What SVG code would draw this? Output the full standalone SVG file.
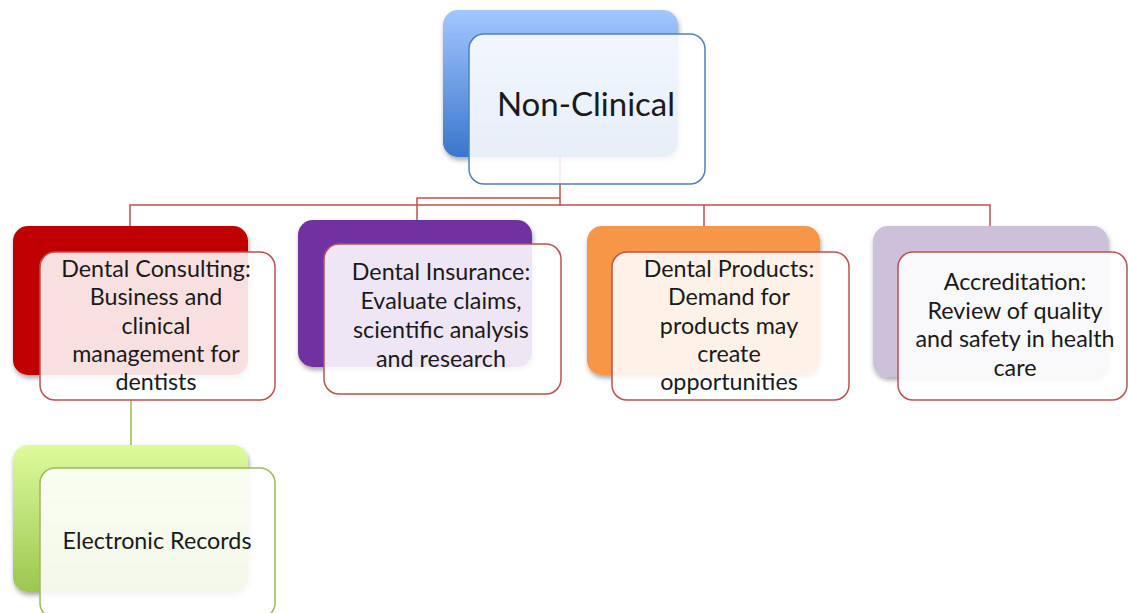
<svg xmlns="http://www.w3.org/2000/svg" width="1128" height="613" viewBox="0 0 1128 613">
<defs>
<linearGradient id="gBlue" x1="0" y1="0" x2="0" y2="1"><stop offset="0" stop-color="#a3c6ff"/><stop offset="1" stop-color="#3a76cc"/></linearGradient>
<linearGradient id="gGreen" x1="0" y1="0" x2="0" y2="1"><stop offset="0" stop-color="#ddfb9c"/><stop offset="1" stop-color="#9cc74e"/></linearGradient>
<filter id="sh" x="-10%" y="-10%" width="125%" height="130%"><feDropShadow dx="1" dy="3" stdDeviation="2.5" flood-color="#000" flood-opacity="0.35"/></filter>
<style>
.back{filter:url(#sh)}
.front{fill:#ffffff;fill-opacity:0.88;stroke-width:1.5}
.red{stroke:#c0504d}
.t{font-family:Lato,"Open Sans","Liberation Sans",sans-serif;font-size:23.3px;fill:#1a1a1a;text-anchor:middle}
.conn{fill:none;stroke:#c0504d;stroke-width:1.5}
</style>
</defs>
<g id="connectors">
<path class="conn" d="M560,157 V205 M130,226 V205 H990 V226 M704,205 V226"/>
<path class="conn" d="M560,198 H417 V220"/>
<path d="M131,400 V445" fill="none" stroke="#9bbb59" stroke-width="1.5"/>
</g>
<g id="node-nonclinical">
<rect class="back" x="443" y="10" width="235" height="147" rx="15" fill="url(#gBlue)"/>
<rect class="front" x="469" y="34" width="236" height="150" rx="15" stroke="#4f81bd"/>
<text class="t" x="586" y="116" style="font-size:33px">Non-Clinical</text>
</g>
<g id="node-consulting">
<rect class="back" x="13" y="226" width="235" height="149" rx="15" fill="#c00000"/>
<rect class="front red" x="40" y="252" width="235" height="148" rx="15"/>
<text class="t" x="156" y="277">Dental Consulting:<tspan x="156" dy="28.3">Business and</tspan><tspan x="156" dy="28.3">clinical</tspan><tspan x="156" dy="28.3">management for</tspan><tspan x="156" dy="28.3">dentists</tspan></text>
</g>
<g id="node-insurance">
<rect class="back" x="298" y="220" width="234" height="147" rx="15" fill="#7030a0"/>
<rect class="front red" x="324" y="244" width="237" height="150" rx="15"/>
<text class="t" x="441" y="280">Dental Insurance:<tspan x="441" dy="29">Evaluate claims,</tspan><tspan x="441" dy="29">scientific analysis</tspan><tspan x="441" dy="29">and research</tspan></text>
</g>
<g id="node-products">
<rect class="back" x="587" y="226" width="233" height="149" rx="15" fill="#f79646"/>
<rect class="front red" x="612" y="252" width="237" height="148" rx="15"/>
<text class="t" x="729" y="277">Dental Products:<tspan x="729" dy="28.3">Demand for</tspan><tspan x="729" dy="28.3">products may</tspan><tspan x="729" dy="28.3">create</tspan><tspan x="729" dy="28.3">opportunities</tspan></text>
</g>
<g id="node-accreditation">
<rect class="back" x="873" y="226" width="235" height="151" rx="15" fill="#ccc0da"/>
<rect class="front red" x="898" y="252" width="229" height="148" rx="15"/>
<text class="t" x="1015" y="290">Accreditation:<tspan x="1015" dy="28.5">Review of quality</tspan><tspan x="1015" dy="28.5">and safety in health</tspan><tspan x="1015" dy="28.5">care</tspan></text>
</g>
<g id="node-electronic">
<rect class="back" x="13" y="445" width="235" height="147" rx="15" fill="url(#gGreen)"/>
<rect class="front" x="40" y="468" width="235" height="150" rx="15" stroke="#9bbb59"/>
<text class="t" x="157" y="549">Electronic Records</text>
</g>
</svg>
